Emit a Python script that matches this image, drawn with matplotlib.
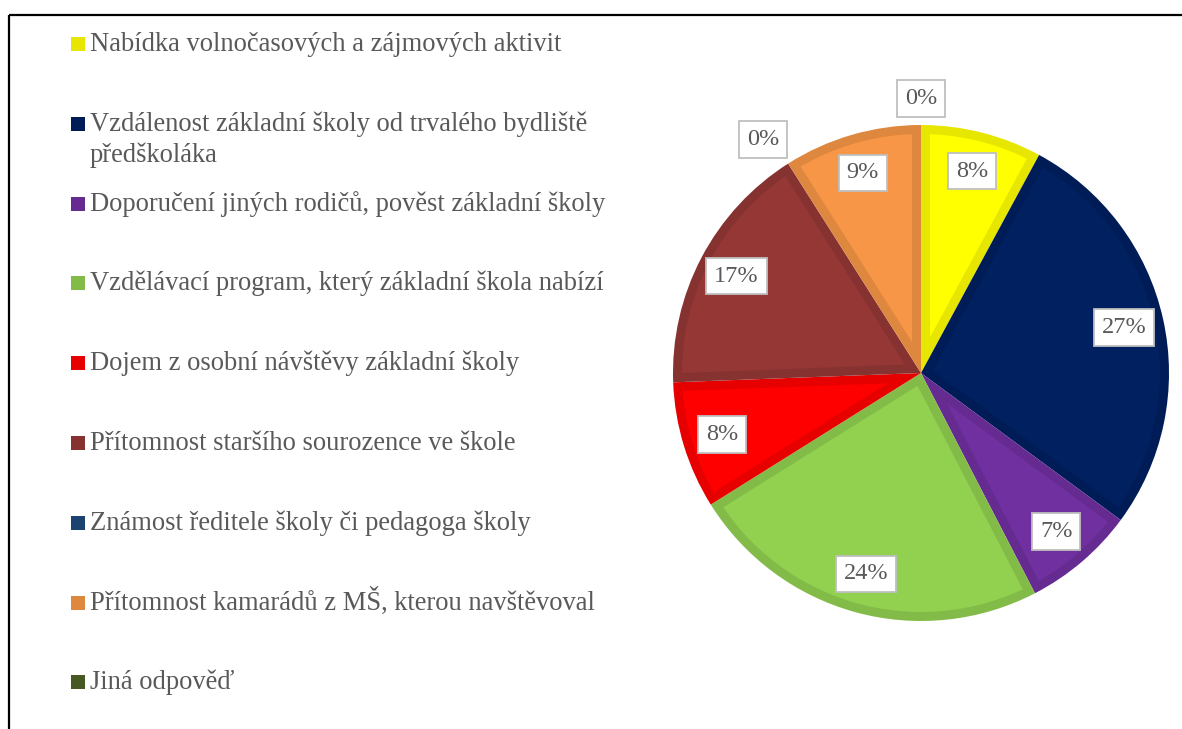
import numpy as np
import matplotlib.pyplot as plt
from matplotlib.patches import Polygon

# data (shares in %)
categories = [
    "Nabídka volnočasových a zájmových aktivit",
    "Vzdálenost základní školy od trvalého bydliště\npředškoláka",
    "Doporučení jiných rodičů, pověst základní školy",
    "Vzdělávací program, který základní škola nabízí",
    "Dojem z osobní návštěvy základní školy",
    "Přítomnost staršího sourozence ve škole",
    "Známost ředitele školy či pedagoga školy",
    "Přítomnost kamarádů z MŠ, kterou navštěvoval",
    "Jiná odpověď",
]
values = [7.9, 27.2, 7.3, 23.7, 8.3, 16.6, 0, 9.0, 0]
fills = ["#FFFF00", "#002060", "#7030A0", "#92D050", "#FF0000",
         "#953735", "#1F497D", "#F79646", "#4F6228"]
edges = ["#E6E600", "#001C56", "#652B90", "#83BB48", "#E60000",
         "#863231", "#1C4270", "#DE873F", "#475823"]

txt_color = "#595959"
serif = ["Liberation Serif", "DejaVu Serif"]

fig = plt.figure(figsize=(11.82, 7.29), dpi=100)
ax = fig.add_axes([0, 0, 1, 1])

cx, cy, R = 921, 729 - 373, 248
border = 9  # inner border of each slice, px

# slices are drawn in the darker border shade, then filled inside
wedges, _ = ax.pie(values, colors=edges, startangle=90, counterclock=False,
                   center=(cx, cy), radius=R, frame=True,
                   wedgeprops=dict(linewidth=0))

for w, fc, v in zip(wedges, fills, values):
    if v == 0:
        continue
    t1, t2 = np.deg2rad(w.theta1), np.deg2rad(w.theta2)
    half = (t2 - t1) / 2
    mid = t1 + half
    d = border / np.sin(half)
    rho = R - border
    a = np.arcsin(border / rho)
    phi = np.linspace(t1 + a, t2 - a, 80)
    pts = [(cx + d * np.cos(mid), cy + d * np.sin(mid))]
    pts += list(zip(cx + rho * np.cos(phi), cy + rho * np.sin(phi)))
    ax.add_patch(Polygon(pts, closed=True, fc=fc, ec="none", zorder=2))

# data labels: inside for real slices, outside (corner on the rim) for empty ones
for w, v in zip(wedges, values):
    mid = np.deg2rad((w.theta1 + w.theta2) / 2)
    c, s = np.cos(mid), np.sin(mid)
    if v > 0:
        r, ha, va = 0.84 * R, "center", "center"
    else:
        r = 1.065 * R
        ha = "left" if c > 0.1 else ("right" if c < -0.1 else "center")
        va = "bottom" if s > 0.1 else ("top" if s < -0.1 else "center")
    ax.text(cx + r * c, cy + r * s, f"{round(v)}%",
            ha=ha, va=va, fontsize=17.5, color=txt_color, family=serif,
            bbox=dict(boxstyle="square,pad=0.32", fc="white", ec="#BFBFBF", lw=1.3),
            zorder=5)

# legend, drawn by hand to keep Excel's fixed slots
for i, (lab, ec) in enumerate(zip(categories, edges)):
    y = 729 - (44 + 79.8 * i)
    ax.plot([77.5], [y], marker="s", ms=10.5, color=ec, mew=0, ls="none")
    for j, line in enumerate(lab.split("\n")):
        ax.text(90, y - 7 - 31 * j, line, ha="left", va="baseline", fontsize=19.1,
                color=txt_color, family=serif)

# chart border (only top and left visible)
ax.plot([8.5, 8.5], [0, 729 - 15], color="black", lw=1.6, solid_capstyle="butt")
ax.plot([8.5, 1182], [729 - 15, 729 - 15], color="black", lw=1.6, solid_capstyle="butt")

ax.set_xlim(0, 1182)
ax.set_ylim(0, 729)
ax.axis("off")

fig.savefig("out.png", dpi=100)
